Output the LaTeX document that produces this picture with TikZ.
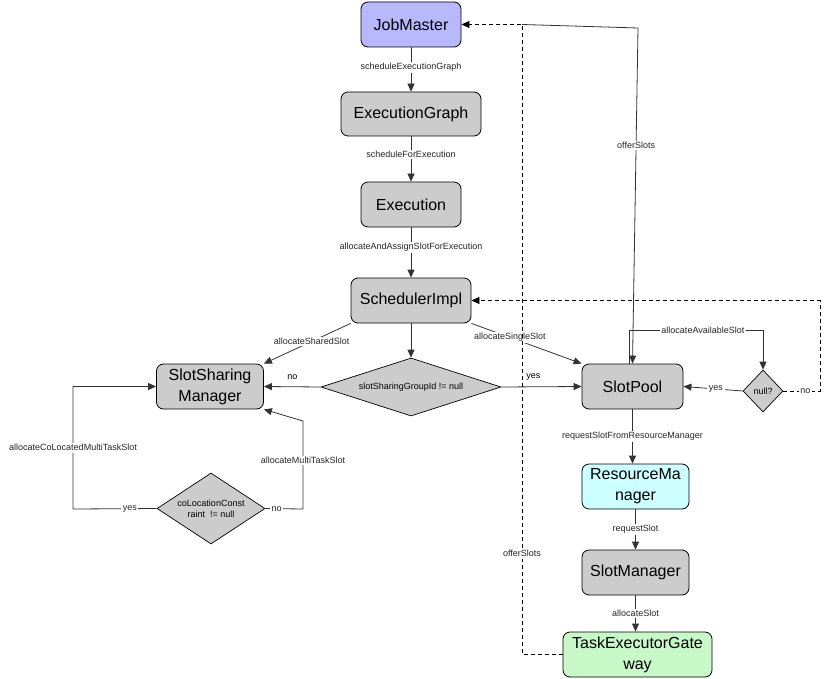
\documentclass[tikz,border=0pt]{standalone}
\usepackage{fontspec}
\setmainfont{Liberation Sans}
\usetikzlibrary{arrows.meta,shapes.geometric,calc}
\definecolor{boxgray}{HTML}{CCCCCC}
\definecolor{jmfill}{HTML}{B8B8FC}
\definecolor{rmfill}{HTML}{CCFFFF}
\definecolor{tefill}{HTML}{C8F8C8}
\definecolor{linec}{HTML}{333333}
\begin{document}
\begin{tikzpicture}[x=1pt,y=-1pt,
  box/.style={rectangle, draw=black, line width=0.8pt, rounded corners=7pt, fill=boxgray,
    font=\fontsize{16}{21}\selectfont, align=center, inner sep=0pt},
  dia/.style={diamond, draw=black, line width=0.7pt, fill=boxgray,
    font=\fontsize{9}{11}\selectfont, align=center, inner sep=0pt},
  lab/.style={fill=white, font=\fontsize{9}{11}\selectfont, inner sep=1.5pt, text=black!85},
  arr/.style={draw=linec, line width=0.8pt, -{Triangle[length=8pt,width=7pt]}},
  dsh/.style={draw=black, line width=0.8pt, dash pattern=on 4pt off 3pt}
]
\useasboundingbox (0,0) rectangle (824,679);

% nodes
\node[box, fill=jmfill, minimum width=100pt, minimum height=45pt] (jm) at (411,24.5) {JobMaster};
\node[box, minimum width=140pt, minimum height=44pt] (eg) at (411,114) {ExecutionGraph};
\node[box, minimum width=100pt, minimum height=45pt] (ex) at (411,204.5) {Execution};
\node[box, minimum width=120pt, minimum height=45pt] (si) at (411,300.5) {SchedulerImpl};
\node[dia, aspect=3.2, minimum width=180pt, minimum height=58pt] (d1) at (411,387) {slotSharingGroupId != null};
\node[box, minimum width=107pt, minimum height=45pt] (ssm) at (210,386.5) {SlotSharing\\Manager};
\node[dia, aspect=1.5, minimum width=108pt, minimum height=71pt] (d2) at (211,508.5) {coLocationConst\\raint\ \ != null};
\node[box, minimum width=101pt, minimum height=45pt] (sp) at (632.5,386.5) {SlotPool};
\node[dia, aspect=1, minimum width=40pt, minimum height=42pt] (nl) at (763,391) {null?};
\node[box, fill=rmfill, minimum width=107pt, minimum height=45pt] (rm) at (635.5,486.5) {ResourceMa\\nager};
\node[box, minimum width=107pt, minimum height=45pt] (sm) at (635.5,572.5) {SlotManager};
\node[box, fill=tefill, minimum width=149pt, minimum height=45pt] (te) at (637.5,654.5) {TaskExecutorGate\\way};

% coordinates
\coordinate (cyl) at (73,509);
\coordinate (cyu) at (73,386.5);
\coordinate (cnr) at (303,509);
\coordinate (cnu) at (303,421);
\coordinate (odb) at (522,654.5);
\coordinate (odt) at (522,24.5);
\coordinate (ost) at (638,28);
\coordinate (aas) at (629.5,364);
\coordinate (aau) at (629.5,330);
\coordinate (aar) at (763,330);
\coordinate (nnr) at (820,391);
\coordinate (nnu) at (820,300.5);

% main chain
\draw[arr] (jm) -- node[lab, pos=0.45]{scheduleExecutionGraph} (eg);
\draw[arr] (eg) -- node[lab, pos=0.4]{scheduleForExecution} (ex);
\draw[arr] (ex) -- node[lab, pos=0.4]{allocateAndAssignSlotForExecution} (si);
\draw[arr] (si) -- (d1);
\draw[arr] (si.south west) -- node[lab, pos=0.45]{allocateSharedSlot} (ssm.north east);
\draw[arr] (si.south east) -- node[lab, pos=0.35]{allocateSingleSlot} (sp.north west);
\draw[arr] (d1.west) -- node[above=3pt, font=\fontsize{9}{11}\selectfont, pos=0.5]{no} (ssm.east);
\draw[arr] (d1.east) -- node[above=3pt, font=\fontsize{9}{11}\selectfont, pos=0.4]{yes} (sp.west);

% coLocation branch
\draw[arr] (d2.west) -- node[lab, pos=0.32]{yes} (cyl) -- node[lab, pos=0.5]{allocateCoLocatedMultiTaskSlot} (cyu) -- (ssm.west);
\draw[arr] (d2.east) -- node[lab, pos=0.3]{no} (cnr) -- node[lab, pos=0.55]{allocateMultiTaskSlot} (cnu) -- (ssm.south east);

% right chain
\draw[arr] (sp.south) -- node[lab, pos=0.5]{requestSlotFromResourceManager} (sp.south |- rm.north);
\draw[arr] (rm.south) -- node[lab, pos=0.5]{requestSlot} (sm.north);
\draw[arr] (sm.south) -- node[lab, pos=0.5]{allocateSlot} (sm.south |- te.north);

% offerSlots
\draw[dsh, -{Triangle[length=8pt,width=7pt]}] (te.west) -- (odb) -- node[lab, pos=0.16]{offerSlots} (odt) -- (jm.east);
\draw[arr] (odt) -- (ost) -- node[lab, pos=0.35]{offerSlots} (sp.north);

% null? check
\draw[arr] (aas) -- (aau) -- node[lab, pos=0.55]{allocateAvailableSlot} (aar) -- (nl.north);
\draw[arr] (nl.west) -- node[lab, pos=0.45]{yes} (sp.east);
\draw[dsh, -{Triangle[length=8pt,width=7pt]}] (nl.east) -- node[lab, pos=0.6]{no} (nnr) -- (nnu) -- (si.east);
\end{tikzpicture}
\end{document}
